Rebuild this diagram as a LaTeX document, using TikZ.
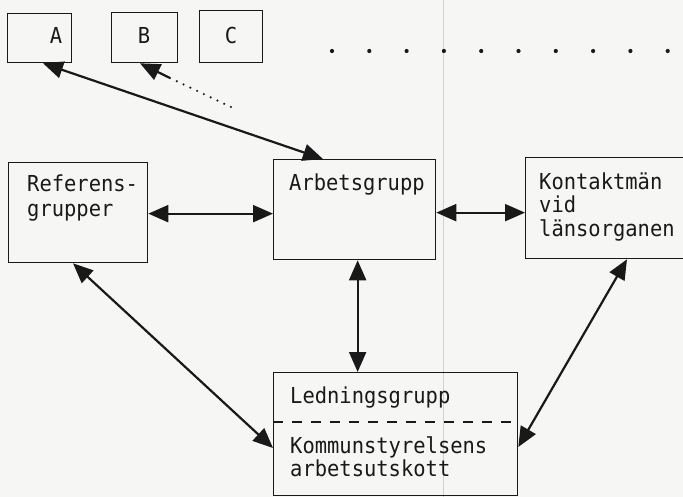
\documentclass[tikz,border=0pt]{standalone}
\usepackage{fontspec}
\newfontfamily\typew[FakeStretch=0.93]{DejaVu Sans Mono}
\usetikzlibrary{arrows.meta}
\definecolor{paper}{RGB}{246,246,244}
\definecolor{ink}{RGB}{25,25,25}
\tikzset{
  box/.style={draw=ink, line width=1.3pt, rectangle, inner sep=0pt, anchor=north west},
  lbl/.style={inner sep=0pt, anchor=base west, text=ink, font=\typew\fontsize{22}{24}\selectfont},
  tip/.tip={Triangle[length=20pt,width=17pt]},
  link/.style={draw=ink, line width=2.2pt, tip-tip},
  onelink/.style={draw=ink, line width=2.2pt, -tip},
  dotlink/.style={draw=ink, line width=2.4pt, line cap=round, dash pattern=on 0pt off 7.5pt},
}
\begin{document}
\begin{tikzpicture}[x=1pt, y=-1pt]
  \useasboundingbox (0,0) rectangle (683,497);
  \fill[paper] (0,0) rectangle (683,497);
  \clip (0,0) rectangle (683,497);
  % fold of the sheet
  \draw[black!18, line width=0.8pt] (443,0) -- (443,497);

  % small boxes at the top
  \node[box, minimum width=64pt, minimum height=49pt] (a) at (7,13) {};
  \node[box, minimum width=66pt, minimum height=50pt] (b) at (111,12) {};
  \node[box, minimum width=63pt, minimum height=52pt] (c) at (199,10) {};
  \node[lbl, anchor=center] (ta) at (56,35) {A};
  \node[lbl, anchor=center] (tb) at (144,35) {B};
  \node[lbl, anchor=center] (tc) at (231,35) {C};

  % row of dots
  \foreach \i in {0,...,9}
    \fill[ink] ({332+37.3*\i},51) circle (2.1pt);

  % main boxes
  \node[box, minimum width=139pt, minimum height=100pt] (ref) at (8,162) {};
  \node[box, minimum width=162pt, minimum height=100pt] (arb) at (273,159) {};
  \node[box, minimum width=170pt, minimum height=101pt] (kon) at (525,157) {};
  \node[box, minimum width=244pt, minimum height=123pt] (led) at (273,372) {};
  \draw[ink, line width=1.3pt, dash pattern=on 10pt off 9pt]
    ([yshift=-50pt]led.north west) -- ([yshift=-50pt]led.north east);

  % texts
  \node[lbl] (t1) at (27,192) {Referens-};
  \node[lbl] (t2) at (27,217) {grupper};
  \node[lbl] (t3) at (289,191) {Arbetsgrupp};
  \node[lbl] (t4) at (539,190) {Kontaktmän};
  \node[lbl] (t5) at (539,213) {vid};
  \node[lbl] (t6) at (539,237) {länsorganen};
  \node[lbl] (t7) at (290,403) {Ledningsgrupp};
  \node[lbl] (t8) at (290,453) {Kommunstyrelsens};
  \node[lbl] (t9) at (290,476) {arbetsutskott};

  % connectors
  \draw[link] ([yshift=-1pt]ref.east) -- ([yshift=-1pt]arb.west |- ref.east);
  \draw[link] ([yshift=-3pt]arb.east) -- ([yshift=-3pt]kon.west |- arb.east);
  \draw[link] ([xshift=3pt]arb.south) -- ([xshift=3pt]arb.south |- led.north);
  \draw[link] ([xshift=36pt]a.south west) -- ([xshift=50pt]arb.north west);
  \draw[link] ([xshift=65pt]ref.south west) -- ([yshift=-76pt]led.north west);
  \draw[link] ([xshift=102pt]kon.south west) -- ([yshift=-75pt]led.north east);

  \coordinate (dmid) at (170,78);
  \coordinate (dend) at (231,107);
  \draw[onelink] (dmid) -- ([xshift=29pt]b.south west);
  \draw[dotlink] (dmid) -- (dend);
\end{tikzpicture}
\end{document}
